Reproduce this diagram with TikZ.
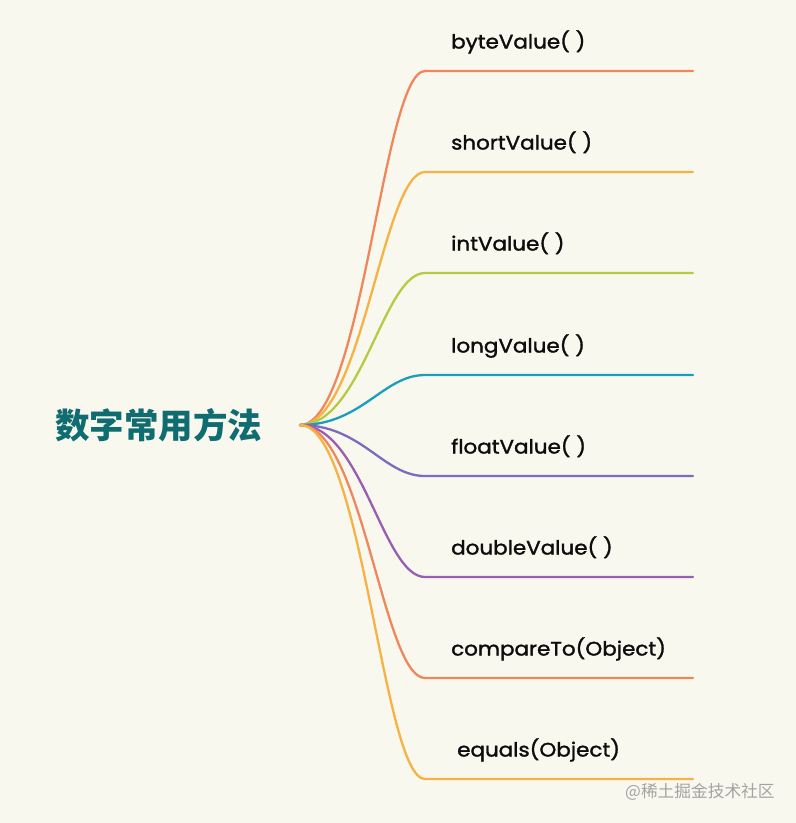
\documentclass[tikz,border=0pt]{standalone}
\usepackage{fontspec}
\setmainfont{Poppins}
\newfontfamily\leaffont{Poppins}[FakeBold=1.6,FakeStretch=1.1]
\newfontfamily\cjk{Noto Sans CJK SC}
\usetikzlibrary{calc}
\definecolor{bg}{HTML}{F9F8EE}
\definecolor{cA}{HTML}{F0875C}
\definecolor{cB}{HTML}{F6B245}
\definecolor{cC}{HTML}{B6CB44}
\definecolor{cD}{HTML}{1A9EBB}
\definecolor{cE}{HTML}{7D6BBF}
\definecolor{cF}{HTML}{9A5EB0}
\definecolor{roottxt}{HTML}{0F6C70}
\definecolor{wm}{HTML}{A3A3A3}
\tikzset{
  branch/.style={line width=2.3pt, line cap=round},
  leaf/.style={anchor=base west, inner sep=0pt, font=\leaffont\fontsize{19.5}{22}\selectfont, text=black!95},
  rootlabel/.style={anchor=base west, inner sep=0pt, font=\cjk\bfseries\fontsize{34.5}{40}\selectfont, text=roottxt},
}
\begin{document}
\begin{tikzpicture}[x=1pt,y=-1pt]
\fill[bg] (0,0) rectangle (796,823);
\useasboundingbox (0,0) rectangle (796,823);
\node[rootlabel] (rl) at (55,438) {数字常用方法};
\coordinate (root) at (300,425);
\foreach \i/\y/\c/\t/\lx in {1/71/cA/byteValue( )/451, 2/172/cB/shortValue( )/451, 3/273/cC/intValue( )/451, 4/375/cD/longValue( )/451, 5/476/cE/floatValue( )/451, 6/577/cF/doubleValue( )/451, 7/678/cA/compareTo(Object)/451, 8/779/cB/equals(Object)/457}{
  \coordinate (s\i) at (425,\y);
  \coordinate (e\i) at (693,\y);
  \node[leaf] (l\i) at (\lx,\y-22.5) {\t};
  \draw[branch, draw=\c] (root) .. controls ($(root)+(62,0)$) and ($(s\i)+(-42,0)$) .. (s\i) -- (e\i);
}
\node[anchor=base west, inner sep=0pt, font=\cjk\fontsize{16.7}{18}\selectfont, text=wm] (wmk) at (625,797) {@稀土掘金技术社区};
\end{tikzpicture}
\end{document}
